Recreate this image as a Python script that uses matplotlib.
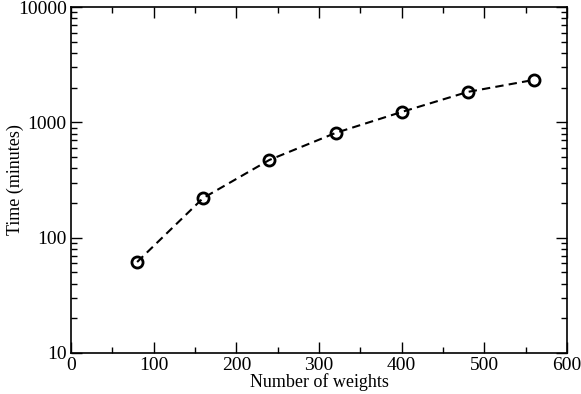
import matplotlib
matplotlib.use("Agg")
import matplotlib.pyplot as plt
from matplotlib.ticker import LogLocator, MultipleLocator, NullFormatter

# data
weights = [80, 160, 240, 320, 400, 480, 560]
minutes = [61.5, 221, 472, 809, 1230, 1836, 2334]

plt.rcParams['font.family'] = ['Liberation Serif', 'DejaVu Serif']

fig = plt.figure(figsize=(5.81, 3.94), dpi=100)
ax = fig.add_axes([0.1222, 0.1041, 0.8537, 0.8781])

ax.plot(weights, minutes, color='black', linestyle=(0, (4, 2.5)), linewidth=1.5,
        marker='o', markersize=8, markerfacecolor='none',
        markeredgecolor='black', markeredgewidth=2)

ax.set_yscale('log')
ax.set_xlim(0, 600)
ax.set_ylim(10, 10000)
ax.xaxis.set_major_locator(MultipleLocator(100))
ax.xaxis.set_minor_locator(MultipleLocator(50))
ax.yaxis.set_minor_locator(LogLocator(base=10, subs=range(2, 10), numticks=10))
ax.yaxis.set_minor_formatter(NullFormatter())
ax.set_yticks([10, 100, 1000, 10000])
ax.set_yticklabels(['10', '100', '1000', '10000'])

ax.tick_params(which='both', direction='in', top=True, right=True, labelsize=14)
ax.tick_params(which='major', length=8, width=1, pad=3)
ax.tick_params(which='minor', length=4, width=1)
for s in ax.spines.values():
    s.set_linewidth(1.2)

ax.set_xlabel('Number of weights', fontsize=13)
ax.set_ylabel('Time (minutes)', fontsize=13, va='center')
ax.xaxis.set_label_coords(0.5, -0.058)
ax.yaxis.set_label_coords(-0.113, 0.5)

fig.savefig('out.png', dpi=100)
